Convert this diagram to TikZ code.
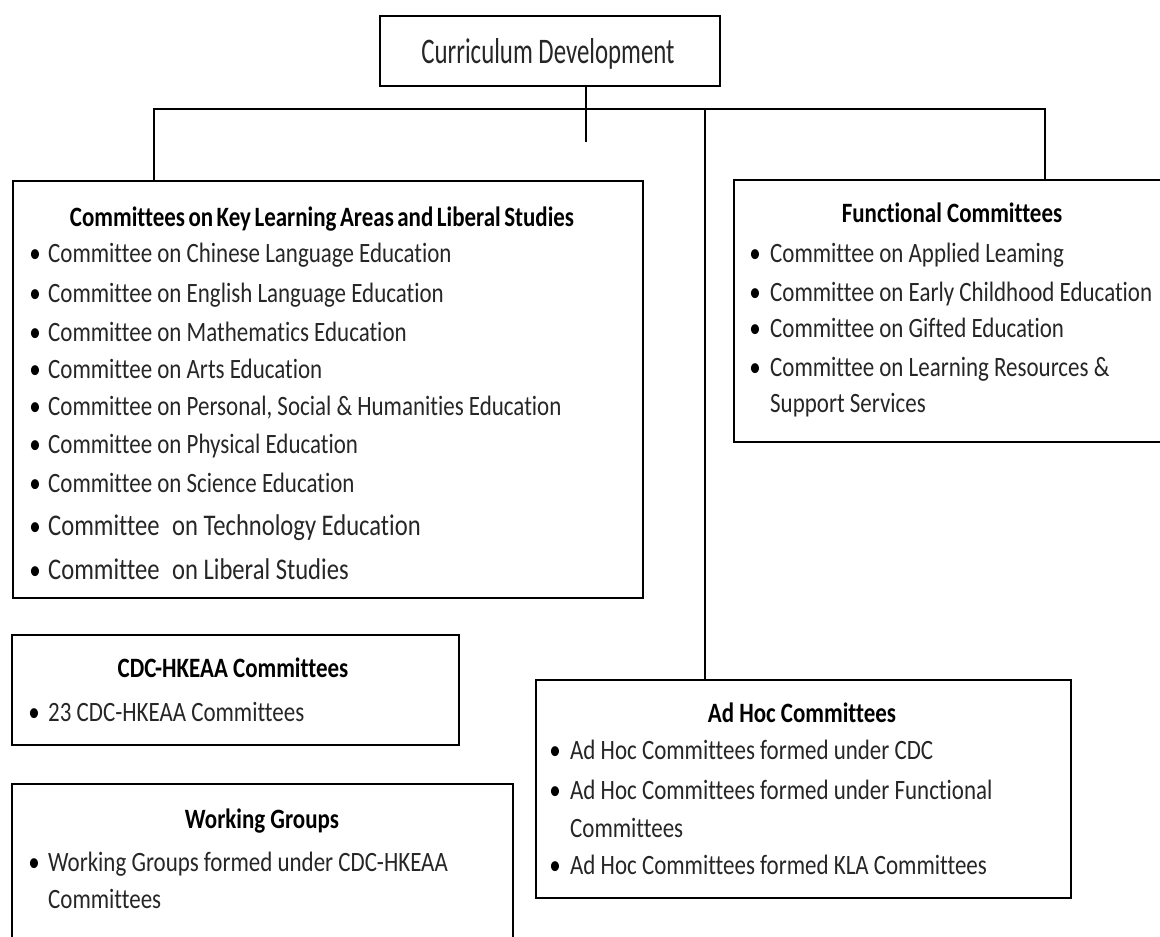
\documentclass[tikz,border=0pt]{standalone}
\usepackage{fontspec}
\setmainfont{Carlito}[FakeStretch=0.82,Ligatures=NoCommon]
\newfontfamily\topfont{Carlito}[FakeStretch=0.69,Ligatures=NoCommon]
\begin{document}
\begin{tikzpicture}[x=1pt,y=-1pt,
  box/.style={draw=black, line width=1.8pt, anchor=north west, inner sep=0pt},
  link/.style={draw=black, line width=1.4pt},
  ttl/.style={anchor=base, inner sep=0pt, font=\fontsize{28}{34}\selectfont\bfseries},
  itm/.style={anchor=base west, inner sep=0pt, text=black!85, font=\fontsize{28}{34}\selectfont},
  itmbig/.style={anchor=base west, inner sep=0pt, text=black!85, font=\fontsize{30}{36}\selectfont},
  bul/.style={anchor=base, inner sep=0pt, font=\fontsize{28}{34}\selectfont}]
\useasboundingbox (0,0) rectangle (1160,937);
\clip (0,0) rectangle (1160,937);
\fill[white] (0,0) rectangle (1160,937);

% boxes
\node[box, minimum width=340pt, minimum height=70pt] (top) at (379,15) {};
\node[box, minimum width=630pt, minimum height=417pt] (kla) at (12,180) {};
\node[box, minimum width=450pt, minimum height=262pt] (func) at (733,179) {};
\node[box, minimum width=447pt, minimum height=110pt] (cdc) at (11,634) {};
\node[box, minimum width=501pt, minimum height=200pt] (work) at (11,783) {};
\node[box, minimum width=535pt, minimum height=218pt] (adhoc) at (535,679) {};

% connectors
\coordinate (bl) at (154,109);
\coordinate (br) at (1045,109);
\coordinate (bm) at (705,109);
\coordinate (stub) at (586,142);
\draw[link] (top.south -| stub) -- (stub);
\draw[link] (kla.north -| bl) -- (bl) -- (br) -- (func.north -| br);
\draw[link] (bm) -- (adhoc.north -| bm);

% top title
\node[anchor=base, inner sep=0pt, text=black!85, font=\fontsize{36}{40}\topfont] (topt) at (548,63) {Curriculum Development};

% KLA
\node[ttl] (klat) at (322,226) {\spaceskip=3.5pt Committees on Key Learning Areas and Liberal Studies};
\foreach \y/\t [count=\i] in {253/{Committee on Chinese Language Education},
  293/{Committee on English Language Education},
  332/{Committee on Mathematics Education},
  369/{Committee on Arts Education},
  406/{Committee on Personal, Social \& Humanities Education},
  444/{Committee on Physical Education},
  483/{Committee on Science Education}}{
  \node[bul] (klab\i) at (35,\y+9) {\textbullet};
  \node[itm] (klai\i) at (48,\y+9) {\t};
}
\node[bul] (klab8) at (35,535) {\textbullet};
\node[itmbig] (klai8) at (48,535) {Committee\hspace{7pt} on Technology Education};
\node[bul] (klab9) at (35,579) {\textbullet};
\node[itmbig] (klai9) at (48,579) {Committee\hspace{7pt} on Liberal Studies};

% Functional
\node[ttl] (funct) at (952,222) {Functional Committees};
\foreach \y/\t [count=\i] in {253/{Committee on Applied Leaming},
  292/{Committee on Early Childhood Education},
  328/{Committee on Gifted Education},
  367/{Committee on Learning Resources \&}}{
  \node[bul] (funcb\i) at (755,\y+9) {\textbullet};
  \node[itm] (funci\i) at (770,\y+9) {\t};
}
\node[itm] (funci5) at (770,412) {Support Services};

% CDC-HKEAA
\node[ttl] (cdct) at (233,677) {CDC-HKEAA Committees};
\node[bul] (cdcb1) at (34,721) {\textbullet};
\node[itm] (cdci1) at (48,721) {23 CDC-HKEAA Committees};

% Working groups
\node[ttl] (workt) at (262,828) {Working Groups};
\node[bul] (workb1) at (34,871) {\textbullet};
\node[itm] (worki1) at (48,871) {Working Groups formed under CDC-HKEAA};
\node[itm] (worki2) at (48,908) {Committees};

% Ad Hoc
\node[ttl] (adhoct) at (802,722) {Ad Hoc Committees};
\node[bul] (adhocb1) at (555,759) {\textbullet};
\node[itm] (adhoci1) at (570,759) {Ad Hoc Committees formed under CDC};
\node[bul] (adhocb2) at (555,799) {\textbullet};
\node[itm] (adhoci2) at (570,799) {Ad Hoc Committees formed under Functional};
\node[itm] (adhoci3) at (570,837) {Committees};
\node[bul] (adhocb4) at (555,874) {\textbullet};
\node[itm] (adhoci4) at (570,874) {Ad Hoc Committees formed KLA Committees};
\end{tikzpicture}
\end{document}
